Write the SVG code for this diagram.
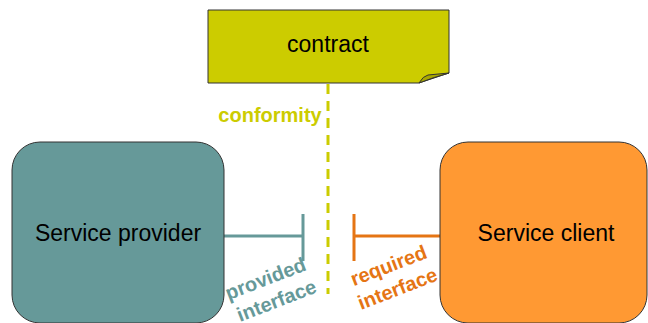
<svg xmlns="http://www.w3.org/2000/svg" width="648" height="323" viewBox="0 0 648 323">
<style>
.node{stroke:#333;stroke-width:1}
.big{font-family:"Liberation Sans",Arial,sans-serif;font-size:23px;fill:#000;text-anchor:middle}
.lbl{font-family:"Liberation Sans",Arial,sans-serif;font-size:20px;font-weight:bold;text-anchor:middle}
</style>
<rect width="648" height="323" fill="#fff"/>
<g id="connectors" fill="none" stroke-width="3">
<line x1="328" y1="84" x2="328" y2="294" stroke="#cccc00" stroke-dasharray="10,7"/>
<path d="M224,236 H303 M303,214 V261" stroke="#669999"/>
<path d="M440,236 H354 M354,214 V261" stroke="#e57514"/>
</g>
<g id="contract">
<path class="node" d="M208,10 H449 V73 L419,83 H208 Z" fill="#cccc00"/>
<path d="M419,83 Q423,76 428,75 L449,73 Q434,77 419,83 Z" fill="#a8a800" stroke="#333" stroke-width="1"/>
<text class="big" x="328" y="52" font-size="22">contract</text>
</g>
<g id="provider">
<rect class="node" x="12" y="142" width="212" height="181" rx="28" ry="28" fill="#669999"/>
<text class="big" x="118" y="241">Service provider</text>
</g>
<g id="client">
<rect class="node" x="440" y="142" width="207" height="181" rx="28" ry="28" fill="#ff9933"/>
<text class="big" x="546" y="241">Service client</text>
</g>
<g id="labels">
<text class="lbl" x="270" y="122" fill="#cccc00">conformity</text>
<g fill="#669999">
<text class="lbl" transform="translate(268,285) rotate(-21)">provided</text>
<text class="lbl" transform="translate(279,307) rotate(-21)">interface</text>
</g>
<g fill="#e57514">
<text class="lbl" transform="translate(391,272) rotate(-21)">required</text>
<text class="lbl" transform="translate(400,295) rotate(-21)">interface</text>
</g>
</g>
</svg>
